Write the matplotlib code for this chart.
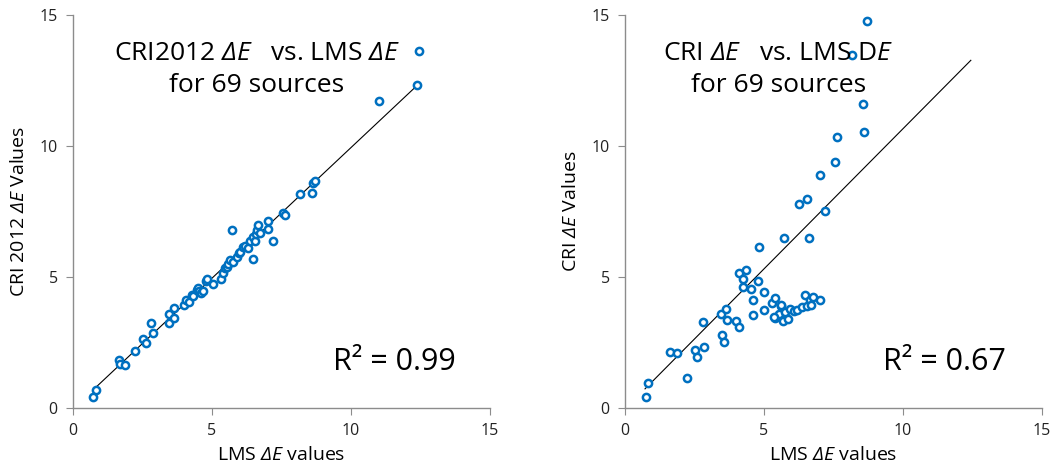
import numpy as np
import matplotlib
matplotlib.use("Agg")
import matplotlib.pyplot as plt

plt.rcParams['font.family'] = ['Open Sans', 'DejaVu Sans']
plt.rcParams['mathtext.fontset'] = 'custom'
plt.rcParams['mathtext.rm'] = 'Open Sans'
plt.rcParams['mathtext.it'] = 'Open Sans:italic'
# 'sf' slot used for a slanted Delta (the 'it' slot keeps Greek capitals upright)
plt.rcParams['mathtext.sf'] = 'Open Sans:italic'

# LMS dE (x) vs CRI2012 dE (y), left panel
lms_left = [0.72, 0.84, 1.64, 1.68, 1.86, 2.22, 2.52, 2.62, 2.82, 2.87,
            3.46, 3.46, 3.64, 3.64, 3.98, 4.07, 4.16, 4.27, 4.30, 4.45,
            4.51, 4.52, 4.62, 4.66, 4.78, 4.82, 5.02, 5.31, 5.40, 5.47,
            5.55, 5.58, 5.64, 5.71, 5.76, 5.91, 5.97, 6.00, 6.10, 6.18,
            6.30, 6.36, 6.46, 6.48, 6.56, 6.58, 6.63, 6.64, 6.72, 7.02,
            7.02, 7.20, 7.54, 7.64, 8.16, 8.58, 8.62, 8.70, 11.02, 12.38,
            12.44]
cri2012 = [0.43, 0.69, 1.83, 1.68, 1.64, 2.17, 2.62, 2.50, 3.23, 2.88,
           3.25, 3.57, 3.44, 3.82, 3.95, 4.13, 4.06, 4.31, 4.28, 4.50,
           4.57, 4.45, 4.40, 4.48, 4.86, 4.92, 4.75, 4.93, 5.14, 5.33,
           5.38, 5.50, 5.64, 6.80, 5.58, 5.77, 5.90, 5.95, 6.13, 6.18,
           6.12, 6.38, 5.68, 6.51, 6.38, 6.66, 6.79, 6.98, 6.68, 7.14,
           6.84, 6.38, 7.46, 7.37, 8.15, 8.22, 8.59, 8.65, 11.73, 12.31,
           13.61]

# LMS dE (x) vs CRI dE (y), right panel
lms_right = [0.74, 0.84, 1.62, 1.86, 2.24, 2.52, 2.58, 2.82, 2.85, 3.45,
             3.48, 3.56, 3.62, 3.66, 3.98, 4.11, 4.11, 4.26, 4.26, 4.35,
             4.52, 4.59, 4.59, 4.77, 4.82, 5.00, 5.00, 5.30, 5.40, 5.40,
             5.55, 5.61, 5.67, 5.72, 5.76, 5.88, 5.94, 6.09, 6.18, 6.26,
             6.36, 6.48, 6.53, 6.53, 6.63, 6.65, 6.68, 6.75, 7.01, 7.01,
             7.19, 7.55, 7.64, 8.18, 8.57, 8.61, 8.69, 5.60, 5.36]
cri = [0.41, 0.96, 2.14, 2.11, 1.15, 2.21, 1.93, 3.29, 2.34, 3.60,
       2.80, 2.53, 3.79, 3.35, 3.31, 3.10, 5.15, 4.91, 4.62, 5.25,
       4.56, 4.14, 3.54, 4.86, 6.14, 4.42, 3.73, 4.01, 4.18, 3.45,
       3.60, 3.88, 3.32, 6.50, 3.67, 3.41, 3.79, 3.71, 3.73, 7.77,
       3.86, 4.33, 7.99, 3.88, 6.50, 4.14, 3.92, 4.24, 8.88, 4.11,
       7.51, 9.38, 10.33, 13.48, 11.59, 10.55, 14.78, 3.93, 3.46]

# trendline (slope, intercept)
trend_left = (0.997, -0.03)
trend_right = (1.07, -0.04)
r2_left = "R² = 0.99"
r2_right = "R² = 0.67"

blue = '#0070C0'
gray = '#8c8c8c'
dE = '$\\mathsf{\\Delta E}$'

fig = plt.figure(figsize=(10.5, 4.7), dpi=100)
ax1 = fig.add_axes([73/1050, 62/470, 417/1050, 393/470])
ax2 = fig.add_axes([625/1050, 62/470, 417/1050, 393/470])

xline = np.array([min(lms_left), max(lms_left)])

panels = [
    (ax1, lms_left, cri2012, trend_left, r2_left,
     'CRI2012 ' + dE + '   vs. LMS ' + dE + '\nfor 69 sources',
     'CRI 2012 ' + dE + ' Values', 6.62, 11.55),
    (ax2, lms_right, cri, trend_right, r2_right,
     'CRI ' + dE + '   vs. LMS D$\\mathsf{E}$\nfor 69 sources',
     'CRI ' + dE + ' Values', 5.52, 11.5),
]

for ax, x, y, tr, r2, title, ylab, tx, rx in panels:
    ax.plot(xline, tr[0]*xline + tr[1], color='black', lw=0.8, zorder=2)
    ax.plot(x, y, 'o', mfc='white', mec=blue, ms=5.2, mew=1.8, zorder=3)
    ax.set_xlim(0, 15)
    ax.set_ylim(0, 15)
    ax.set_xticks([0, 5, 10, 15])
    ax.set_yticks([0, 5, 10, 15])
    for s in ['top', 'right']:
        ax.spines[s].set_visible(False)
    for s in ['left', 'bottom']:
        ax.spines[s].set_color(gray)
        ax.spines[s].set_linewidth(1.0)
    ax.tick_params(direction='out', length=5, color=gray, labelsize=11.5,
                   labelcolor='#222222', pad=6)
    ax.set_xlabel('LMS ' + dE + ' values', fontsize=14, labelpad=5)
    ax.set_ylabel(ylab, fontsize=14, labelpad=8)
    ax.text(tx, 12.92, title, ha='center', va='center', fontsize=19,
            linespacing=1.42, zorder=4)
    ax.text(rx, 1.75, r2, ha='center', va='center', fontsize=22)

fig.savefig('out.png', dpi=100)
